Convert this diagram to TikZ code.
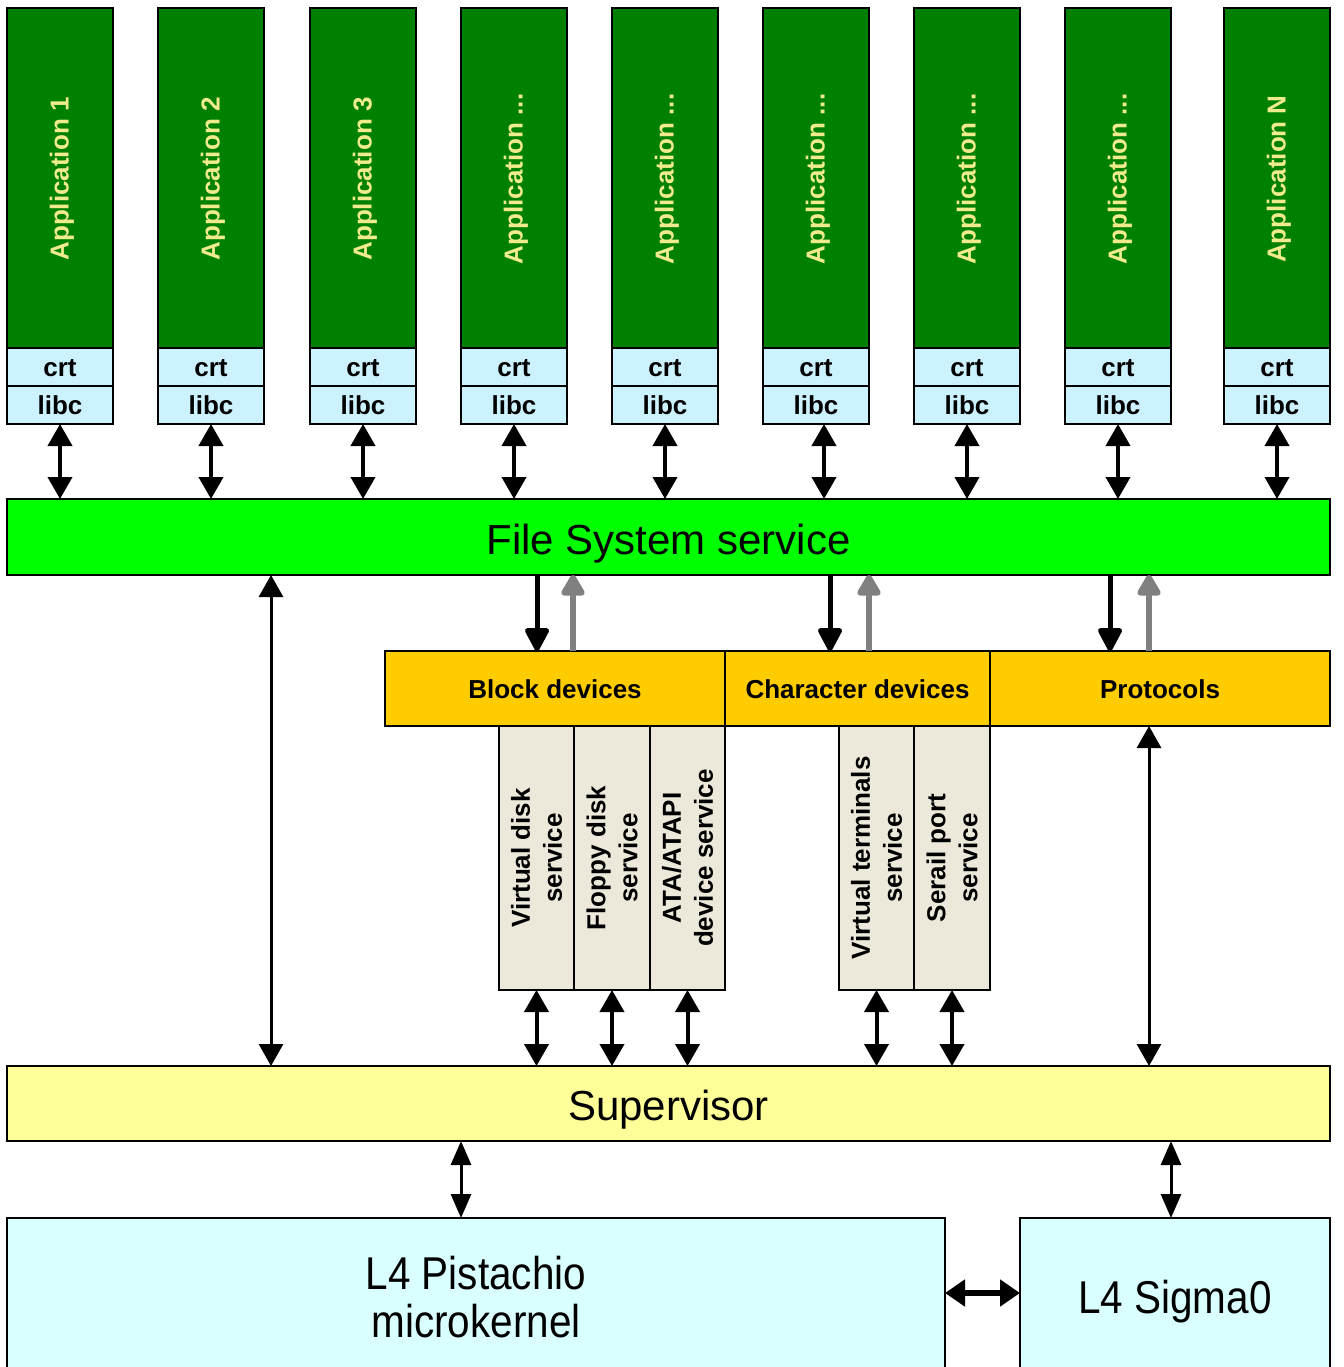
\documentclass[tikz,border=0pt]{standalone}
\usepackage{fontspec}
\setmainfont{Liberation Sans}
\newfontfamily\narrowfont[FakeStretch=0.88]{Liberation Sans}
\usetikzlibrary{arrows.meta}
\definecolor{appgreen}{RGB}{0,128,0}
\definecolor{apptext}{RGB}{240,235,140}
\definecolor{libcol}{RGB}{204,242,255}
\definecolor{fsgreen}{RGB}{0,255,0}
\definecolor{devyel}{RGB}{255,204,0}
\definecolor{svcbeige}{RGB}{236,232,218}
\definecolor{supyel}{RGB}{255,255,153}
\definecolor{kerncyan}{RGB}{217,255,255}
\definecolor{upgray}{RGB}{128,128,128}
\begin{document}
\begin{tikzpicture}[x=1pt,y=-1pt,
  box/.style={draw=black,line width=2pt,inner sep=0pt,outer sep=0pt},
  apptxt/.style={text=apptext,font=\fontsize{26}{30}\selectfont\bfseries},
  libtxt/.style={font=\fontsize{26}{30}\selectfont\bfseries,text depth=0pt,text height=19pt},
  bigtxt/.style={font=\fontsize{42}{48}\selectfont},
  devtxt/.style={font=\fontsize{26}{30}\selectfont\bfseries,text depth=0pt,text height=19pt},
  svctxt/.style={font=\fontsize{26}{32}\selectfont\bfseries,align=center,rotate=90},
  kerntxt/.style={font=\narrowfont\fontsize{46}{48}\selectfont,align=center},
  dblarr/.style={{Triangle[width=24pt,length=22pt]}-{Triangle[width=24pt,length=22pt]},line width=4pt},
  longarr/.style={{Triangle[width=24pt,length=22pt]}-{Triangle[width=24pt,length=22pt]},line width=3pt},
  kernarr/.style={{Triangle[width=20pt,length=24pt]}-{Triangle[width=20pt,length=24pt]},line width=3pt},
  horarr/.style={{Triangle[width=26pt,length=20pt]}-{Triangle[width=26pt,length=20pt]},line width=6pt},
  downarr/.style={-{Triangle[width=26pt,length=26pt,round]},line width=5pt,line join=round},
  uparr/.style={-{Triangle[width=26pt,length=24pt,round]},line width=6pt,draw=upgray,line join=round}
]
\useasboundingbox (0,0) rectangle (1343,1367);
\clip (0,0) rectangle (1343,1367);

% File system service
\node[box,fill=fsgreen,minimum width=1323pt,minimum height=76pt] (fs) at (668.5,537) {};
\node[bigtxt,yshift=-7pt] (fsl) at (fs) {File System service};

% Applications
\foreach \i/\x/\lab/\dx in {1/7/{Application 1}/0, 2/158/{Application 2}/0, 3/310/{Application 3}/0, 4/461/{Application ...}/0, 5/612/{Application ...}/0, 6/763/{Application ...}/8, 7/914/{Application ...}/0, 8/1065/{Application ...}/0, 9/1224/{Application N}/0} {
  \node[box,fill=appgreen,minimum width=106pt,minimum height=340pt] (app\i) at (\x+53,178) {};
  \node[apptxt,rotate=90] (applab\i) at (\x+55,179) {\lab};
  \node[box,fill=libcol,minimum width=106pt,minimum height=38pt,libtxt] (crt\i) at (\x+53,367) {crt};
  \node[box,fill=libcol,minimum width=106pt,minimum height=38pt,libtxt] (libc\i) at (\x+53,405) {libc};
  \draw[dblarr] ([xshift=\dx pt]libc\i.south) -- ([xshift=\dx pt]libc\i.south |- fs.north);
}

% Device classes
\node[box,fill=devyel,minimum width=340pt,minimum height=75pt,devtxt] (bd) at (555,688.5) {Block devices};
\node[box,fill=devyel,minimum width=265pt,minimum height=75pt,devtxt] (cd) at (857.5,688.5) {Character devices};
\node[box,fill=devyel,minimum width=340pt,minimum height=75pt,devtxt] (pr) at (1160,688.5) {Protocols};

% Services
\node[box,fill=svcbeige,minimum width=75pt,minimum height=264pt] (vd) at (536.5,858) {};
\node[box,fill=svcbeige,minimum width=76pt,minimum height=264pt] (fd) at (612,858) {};
\node[box,fill=svcbeige,minimum width=75pt,minimum height=264pt] (ata) at (687.5,858) {};
\node[box,fill=svcbeige,minimum width=75pt,minimum height=264pt] (vt) at (876.5,858) {};
\node[box,fill=svcbeige,minimum width=76pt,minimum height=264pt] (sp) at (952,858) {};
\node[svctxt] (vdl) at (vd) {Virtual disk\\service};
\node[svctxt] (fdl) at (fd) {Floppy disk\\service};
\node[svctxt] (atal) at (ata) {ATA/ATAPI\\device service};
\node[svctxt] (vtl) at (vt) {Virtual terminals\\service};
\node[svctxt] (spl) at (sp) {Serail port\\service};

% Supervisor
\node[box,fill=supyel,minimum width=1323pt,minimum height=75pt] (sup) at (668.5,1103.5) {};
\node[bigtxt,yshift=-6pt] (supl) at (sup) {Supervisor};

% Kernel
\node[box,fill=kerncyan,minimum width=938pt,minimum height=158pt,kerntxt] (l4) at (476,1297) {L4 Pistachio\\microkernel};
\node[box,fill=kerncyan,minimum width=310pt,minimum height=158pt,kerntxt,text depth=0pt] (sig) at (1175,1297) {L4 Sigma0};

% FS <-> device classes
\draw[downarr] ([xshift=-18pt]bd.north |- fs.south) -- ([xshift=-18pt]bd.north);
\draw[uparr] ([xshift=18pt]bd.north) -- ([xshift=18pt]bd.north |- fs.south);
\draw[downarr] ([xshift=-27.5pt]cd.north |- fs.south) -- ([xshift=-27.5pt]cd.north);
\draw[uparr] ([xshift=11.5pt]cd.north) -- ([xshift=11.5pt]cd.north |- fs.south);
\draw[downarr] ([xshift=-50pt]pr.north |- fs.south) -- ([xshift=-50pt]pr.north);
\draw[uparr] ([xshift=-11pt]pr.north) -- ([xshift=-11pt]pr.north |- fs.south);

% FS <-> Supervisor
\draw[longarr] ([xshift=-397.5pt]fs.south) -- ([xshift=-397.5pt]sup.north);
% Protocols <-> Supervisor
\draw[longarr] ([xshift=-11pt]pr.south) -- ([xshift=-11pt]pr.south |- sup.north);
% Services <-> Supervisor
\foreach \s in {vd,fd,ata,vt,sp} {
  \draw[dblarr] (\s.south) -- (\s.south |- sup.north);
}
% Supervisor <-> kernel
\draw[kernarr] ([xshift=-15pt]l4.north |- sup.south) -- ([xshift=-15pt]l4.north);
\draw[kernarr] ([xshift=-4pt]sig.north |- sup.south) -- ([xshift=-4pt]sig.north);
\draw[horarr] ([yshift=4pt]l4.east) -- ([yshift=4pt]sig.west);
\end{tikzpicture}
\end{document}
